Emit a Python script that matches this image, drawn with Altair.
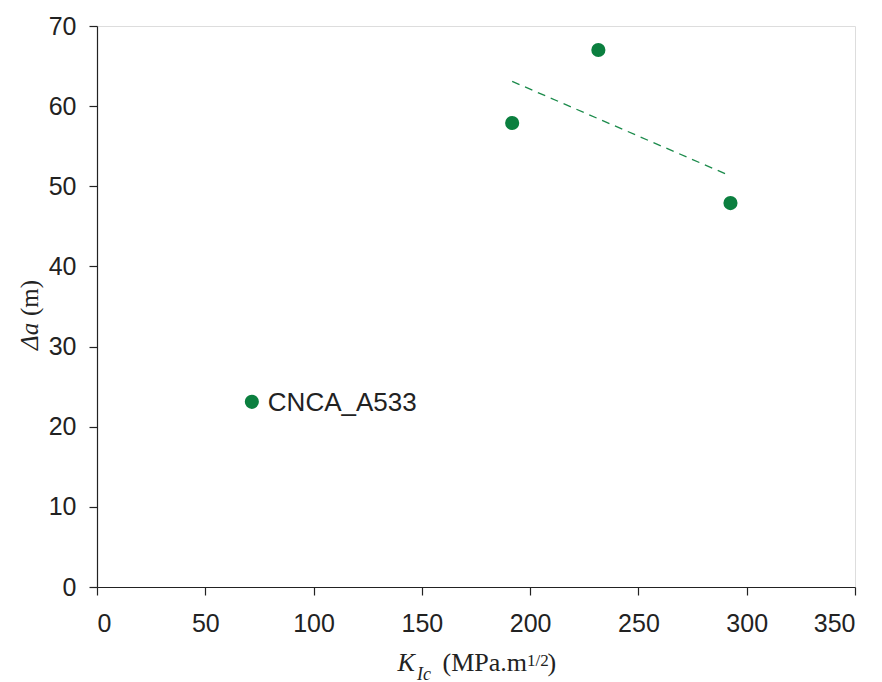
import altair as alt
import pandas as pd

# ---- data ----
k_ic = [71.5, 191.7, 231.5, 292.5]
delta_a = [23.1, 57.9, 67.0, 47.9]
point_labels = ["CNCA_A533", "", "", ""]
in_trend = [False, True, True, True]

x_ticks = [0, 50, 100, 150, 200, 250, 300, 350]
y_ticks = [0, 10, 20, 30, 40, 50, 60, 70]

GREEN = "#0b7f3f"
SANS = "Liberation Sans"
SERIF = "Liberation Serif"
TXT = "#222222"

df = pd.DataFrame({"k": k_ic, "da": delta_a, "lab": point_labels, "trend": in_trend})

W, H = 758, 561

xs = alt.Scale(domain=[0, 350], nice=False, zero=False)
ys = alt.Scale(domain=[0, 70], nice=False, zero=False)

xaxis = alt.Axis(values=x_ticks, title=None, grid=False, domainColor="#222222",
                 tickColor="#222222", tickSize=8, labelFont=SANS, labelFontSize=25,
                 labelColor=TXT, labelPadding=16, domainWidth=1.2, tickWidth=1.2)
yaxis = alt.Axis(values=y_ticks, title=None, grid=False, domainColor="#222222",
                 tickColor="#222222", tickSize=8, labelFont=SANS, labelFontSize=25,
                 labelColor=TXT, labelPadding=13, domainWidth=1.2, tickWidth=1.2)

base = alt.Chart(df)

points = base.mark_point(filled=True, shape="circle", size=200, color=GREEN, opacity=1).encode(
    x=alt.X("k:Q", scale=xs, axis=xaxis),
    y=alt.Y("da:Q", scale=ys, axis=yaxis),
)

labels = base.transform_filter("datum.lab != ''").mark_text(
    align="left", baseline="middle", dx=16, dy=1, font=SANS, fontSize=26, color=TXT
).encode(x=alt.X("k:Q", scale=xs), y=alt.Y("da:Q", scale=ys), text="lab:N")

trend = base.transform_filter("datum.trend").transform_regression("k", "da").mark_line(
    color="#1a8a4a", strokeDash=[8, 6], strokeWidth=1.3
).encode(x=alt.X("k:Q", scale=xs), y=alt.Y("da:Q", scale=ys))


def txt(s, x, y, size, italic=False, angle=0, align="left"):
    d = pd.DataFrame({"t": [s]})
    return alt.Chart(d).mark_text(
        align=align, baseline="alphabetic", font=SERIF, fontSize=size,
        fontStyle="italic" if italic else "normal", color=TXT, angle=angle
    ).encode(x=alt.value(x), y=alt.value(y), text="t:N")


# x title pieces: K_Ic (MPa.m^1/2)
xt = [
    txt("K", 300.5, 645, 26, italic=True),
    txt("Ic", 320, 653.5, 18, italic=True),
    txt("(MPa.m", 345.5, 645, 26),
    txt("1/2", 430, 640, 17),
    txt(")", 450.5, 645, 26),
]

# y title pieces: Δa (m), rotated
yt = [
    txt("Δa", -59, 324, 25, italic=True, angle=270),
    txt("(m)", -59, 254, 25, angle=270, align="right"),
]

chart = alt.layer(trend, points, labels, *xt, *yt).properties(
    width=W, height=H,
    autosize=alt.AutoSizeParams(type="none"),
    padding={"left": 97, "top": 26, "right": 27, "bottom": 95},
).configure_view(stroke="#a0a0a0", strokeWidth=1.2).configure(background="white")

chart.save("out.html", embed_options={"renderer": "svg", "actions": False})
